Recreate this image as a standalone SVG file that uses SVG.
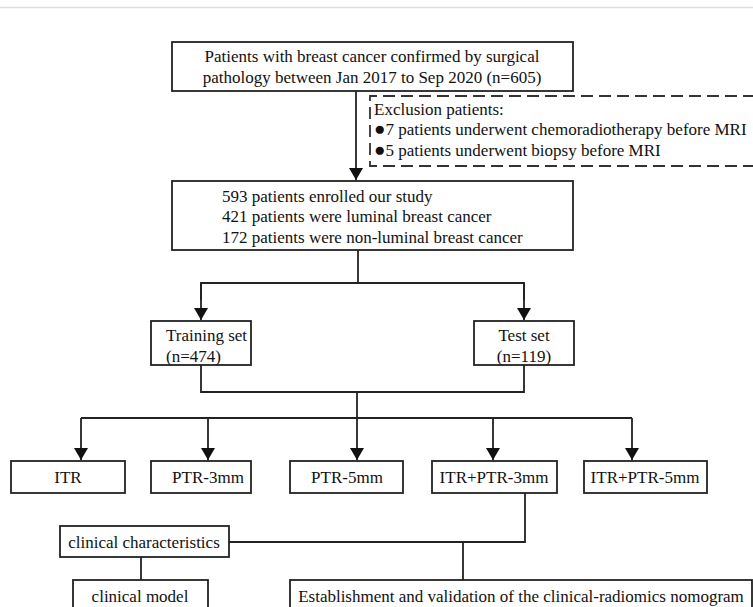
<svg xmlns="http://www.w3.org/2000/svg" width="753" height="607" viewBox="0 0 753 607">
<defs>
<style>
.box{fill:#fff;stroke:#222;stroke-width:1.8}
.dash{fill:none;stroke:#333;stroke-width:1.8;stroke-dasharray:12,6}
.t{font-family:"Liberation Serif","Times New Roman",Times,serif;font-size:17px;fill:#111}
.c{text-anchor:middle}
.b{font-size:19px}
.ln{fill:none;stroke:#222;stroke-width:1.8}
</style>
<marker id="ah" viewBox="0 0 12 14" refX="12" refY="7" markerWidth="12" markerHeight="14" markerUnits="userSpaceOnUse" orient="auto">
<path d="M0,0 L12,7 L0,14 Z" fill="#111"/>
</marker>
</defs>
<rect width="753" height="607" fill="#fff"/>
<line x1="0" y1="7.5" x2="753" y2="7.5" stroke="#ddd" stroke-width="1.5"/>
<g id="connectors">
<line class="ln" x1="356" y1="91" x2="356" y2="180" marker-end="url(#ah)"/>
<polyline class="ln" points="358,250 358,283"/>
<polyline class="ln" points="201,300 201,283 524,283 524,300"/>
<line class="ln" x1="201" y1="283" x2="201" y2="320" marker-end="url(#ah)"/>
<line class="ln" x1="524" y1="283" x2="524" y2="320" marker-end="url(#ah)"/>
<polyline class="ln" points="201,365 201,392 524,392 524,365"/>
<line class="ln" x1="357" y1="392" x2="357" y2="418"/>
<line class="ln" x1="81" y1="418" x2="632" y2="418"/>
<line class="ln" x1="81" y1="418" x2="81" y2="460" marker-end="url(#ah)"/>
<line class="ln" x1="208" y1="418" x2="208" y2="460" marker-end="url(#ah)"/>
<line class="ln" x1="357" y1="418" x2="357" y2="460" marker-end="url(#ah)"/>
<line class="ln" x1="493" y1="418" x2="493" y2="460" marker-end="url(#ah)"/>
<line class="ln" x1="632" y1="418" x2="632" y2="460" marker-end="url(#ah)"/>
<polyline class="ln" points="525,493 525,542 229,542"/>
<line class="ln" x1="463" y1="542" x2="463" y2="580"/>
<line class="ln" x1="141" y1="557" x2="141" y2="580"/>
</g>
<g id="n_start">
<rect class="box" x="172" y="42" width="401" height="49"/>
<text class="t c" x="372" y="62">Patients with breast cancer confirmed by surgical</text>
<text class="t c" x="372" y="83">pathology between Jan 2017 to Sep 2020 (n=605)</text>
</g>
<g id="n_exclusion">
<path class="dash" d="M755,96 H370 V166 H755"/>
<text class="t" x="374" y="115">Exclusion patients:</text>
<text class="t" x="374" y="135"><tspan class="b">●</tspan>7 patients underwent chemoradiotherapy before MRI</text>
<text class="t" x="374" y="156"><tspan class="b">●</tspan>5 patients underwent biopsy before MRI</text>
</g>
<g id="n_enrolled">
<rect class="box" x="172" y="181" width="401" height="69"/>
<text class="t" x="222" y="202">593 patients enrolled our study</text>
<text class="t" x="222" y="222">421 patients were luminal breast cancer</text>
<text class="t" x="222" y="243">172 patients were non-luminal breast cancer</text>
</g>
<g id="n_training">
<rect class="box" x="151" y="321" width="100" height="44"/>
<text class="t" x="166" y="341">Training set</text>
<text class="t" x="166" y="362">(n=474)</text>
</g>
<g id="n_test">
<rect class="box" x="474" y="321" width="100" height="44"/>
<text class="t c" x="524" y="341">Test set</text>
<text class="t c" x="524" y="362">(n=119)</text>
</g>
<g id="n_itr">
<rect class="box" x="11" y="461" width="114" height="32"/>
<text class="t c" x="68" y="483">ITR</text>
</g>
<g id="n_ptr3">
<rect class="box" x="151" y="461" width="100" height="32"/>
<text class="t c" x="208" y="483">PTR-3mm</text>
</g>
<g id="n_ptr5">
<rect class="box" x="290" y="461" width="113" height="32"/>
<text class="t c" x="347" y="483">PTR-5mm</text>
</g>
<g id="n_itrptr3">
<rect class="box" x="432" y="461" width="125" height="32"/>
<text class="t c" x="494" y="483">ITR+PTR-3mm</text>
</g>
<g id="n_itrptr5">
<rect class="box" x="584" y="461" width="123" height="32"/>
<text class="t c" x="645" y="483">ITR+PTR-5mm</text>
</g>
<g id="n_clinchar">
<rect class="box" x="60" y="526" width="169" height="31"/>
<text class="t c" x="144" y="548">clinical characteristics</text>
</g>
<g id="n_clinmodel">
<rect class="box" x="73" y="580" width="135" height="32"/>
<text class="t c" x="140" y="602">clinical model</text>
</g>
<g id="n_nomogram">
<rect class="box" x="290" y="580" width="462" height="32"/>
<text class="t c" x="521" y="602">Establishment and validation of the clinical-radiomics nomogram</text>
</g>
</svg>
